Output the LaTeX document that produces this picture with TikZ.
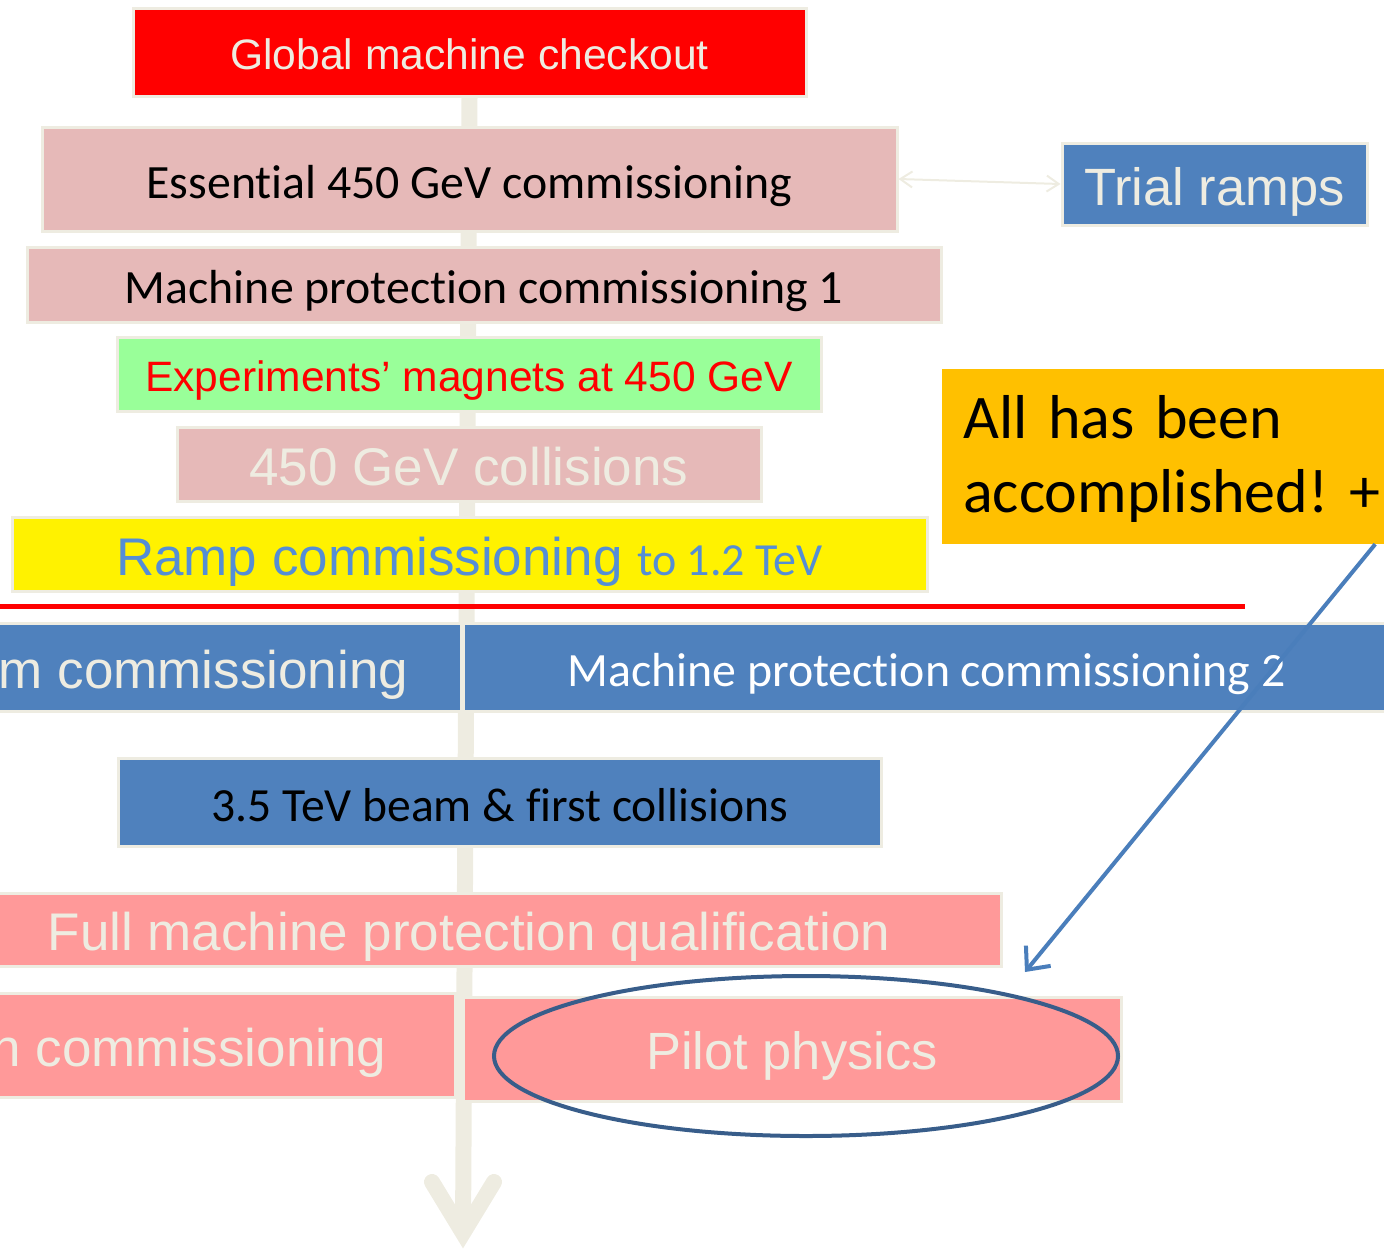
\documentclass[tikz,border=0pt]{standalone}
\usepackage{fontspec}
\setmainfont{Liberation Sans}
\newfontfamily\calfont{Carlito}[Ligatures=NoCommon]
\usetikzlibrary{arrows.meta,shapes.geometric}
\definecolor{beige}{HTML}{EEECE1}
\definecolor{pinkbox}{HTML}{E6B9B8}
\definecolor{greenbox}{HTML}{99FF99}
\definecolor{bluebox}{HTML}{4F81BD}
\definecolor{salmon}{HTML}{FF9999}
\definecolor{orangebox}{HTML}{FFC000}
\definecolor{rampblue}{HTML}{558ED5}
\definecolor{ringblue}{HTML}{385D8A}
\definecolor{ptrblue}{HTML}{4A7EBB}
\newcommand\tl[1]{\smash{#1}\rule[-0.1em]{0pt}{1em}}
\newcommand\fs[1]{\fontsize{#1}{#1}\selectfont}
\frenchspacing
\begin{document}
\begin{tikzpicture}[x=1pt,y=-1pt,
  box/.style={draw=beige, line width=3pt, inner sep=0pt, anchor=center},
  spine/.style={draw=beige, line width=16pt},
  arial/.style={font=\fs{#1}},
  calibri/.style={font=\calfont\fs{#1}}]
\useasboundingbox (0,0) rectangle (1384,1254);
\clip (0,0) rectangle (1384,1254);

% coordinates for the time axis
\coordinate (tip) at (463,1233);

% boxes
\node[box, fill=red, text=beige, arial=42.6, minimum width=673pt, minimum height=88pt] (global) at (469.5,52) {\tl{Global machine checkout}};

\draw[spine] (global.south) -- (tip);
\draw[spine, line cap=round, line join=miter] (432,1182) -- (tip) -- (494,1182);

\node[box, fill=pinkbox, text=black, calibri=47.8, minimum width=855pt, minimum height=104pt] (essential) at (469.5,179) {\tl{Essential 450 GeV commissioning}};
\node[box, fill=pinkbox, text=black, calibri=47.8, minimum width=914pt, minimum height=75pt] (mp1) at (484,284.5) {\tl{Machine protection commissioning 1}};
\node[box, fill=greenbox, text=red, arial=42.5, minimum width=704pt, minimum height=74pt] (expmag) at (469,374) {\tl{Experiments’ magnets at 450 GeV}};
\node[box, fill=pinkbox, text=beige, arial=53, minimum width=584pt, minimum height=74pt] (coll) at (469,464) {\tl{450 GeV collisions}};
\node[box, fill=yellow, text=rampblue, arial=53, minimum width=915pt, minimum height=74pt] (ramp) at (469.5,554) {\tl{Ramp commissioning {\calfont\fs{46}to 1.2 TeV}}};

\draw[red, line width=5pt] (0,606) -- (1245,606);

\node[box, fill=bluebox, text=beige, arial=53, minimum width=515pt, minimum height=88pt] (beamcomm) at (203.5,667) {\tl{m commissioning}};
\node[box, fill=bluebox, text=white, calibri=47.8, minimum width=927pt, minimum height=88pt] (mp2) at (926.5,667) {\tl{Machine protection commissioning 2}};
\node[box, fill=bluebox, text=black, calibri=47.6, minimum width=763pt, minimum height=88pt] (tev) at (499.5,802) {\tl{3.5 TeV beam \& first collisions}};
\node[box, fill=salmon, text=beige, arial=53, minimum width=1064pt, minimum height=73pt] (fullmp) at (469,929.5) {\tl{Full machine protection qualification}};
\node[box, fill=salmon, text=beige, arial=53, minimum width=532pt, minimum height=104pt] (ncomm) at (189,1045) {\tl{n commissioning}};
\node[box, fill=salmon, text=beige, arial=52.4, minimum width=658pt, minimum height=104pt] (pilot) at (792,1049) {\tl{Pilot physics}};

\node[box, fill=bluebox, text=beige, arial=52.5, minimum width=305pt, minimum height=82pt] (trial) at (1214.5,184) {\tl{Trial ramps}};
\draw[beige, line width=2pt, {Straight Barb[length=12pt,width=16pt]}-{Straight Barb[length=12pt,width=16pt]}] (essential.east) -- (trial.west);

\node[fill=orangebox, inner sep=0pt, minimum width=460pt, minimum height=175pt] (done) at (1172,456.5) {};
\node[inner sep=0pt, anchor=base west, text width=600pt, align=left, font=\calfont\fontsize{62}{74}\selectfont] (donetext) at (963,438) {All has been\\accomplished! +};

\node[draw=ringblue, line width=4pt, ellipse, minimum width=624pt, minimum height=160pt, inner sep=0pt] (ring) at (806,1056) {};

\coordinate (ptr) at (1025,972);
\draw[ptrblue, line width=4pt, -{Straight Barb[length=18pt,width=32pt]}] ([xshift=-27pt]done.south east) -- (ptr);
\end{tikzpicture}
\end{document}
